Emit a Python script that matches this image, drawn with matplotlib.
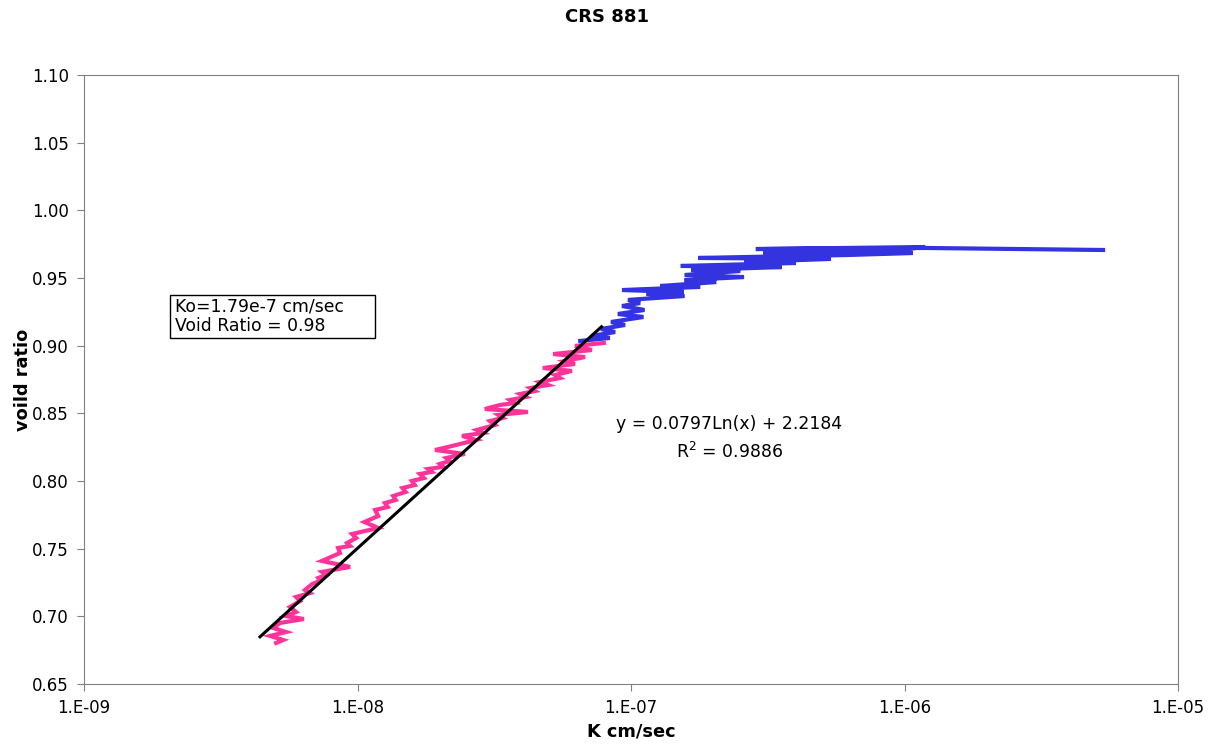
import numpy as np
import matplotlib.pyplot as plt
from matplotlib.patches import Rectangle
from matplotlib.ticker import FixedLocator, FuncFormatter, NullLocator

# blue: early part of the test (high void ratio)
k_blue = [5.32e-6, 1.19e-6, 2.86e-7, 1.19e-6, 8.71e-7, 3.04e-7, 1.07e-6, 6.21e-7,
          1.76e-7, 5.38e-7, 2.59e-7, 4.01e-7, 1.52e-7, 3.56e-7, 1.66e-7, 2.51e-7,
          1.57e-7, 2.59e-7, 1.57e-7, 2.05e-7, 1.28e-7, 1.79e-7, 9.27e-8, 1.56e-7,
          1.14e-7, 1.57e-7, 9.75e-8, 1.08e-7, 9.27e-8, 1.12e-7, 8.95e-8, 1.11e-7,
          8.45e-8, 9.51e-8, 7.76e-8, 8.75e-8, 7.19e-8, 8.37e-8, 6.52e-8]
e_blue = [0.9707, 0.9722, 0.9714, 0.9729, 0.9700, 0.9685, 0.9685, 0.9670,
          0.9648, 0.9641, 0.9618, 0.9611, 0.9589, 0.9581, 0.9559, 0.9552,
          0.9522, 0.9507, 0.9485, 0.9470, 0.9441, 0.9434, 0.9411, 0.9397,
          0.9382, 0.9367, 0.9338, 0.9315, 0.9293, 0.9264, 0.9234, 0.9212,
          0.9175, 0.9153, 0.9123, 0.9101, 0.9072, 0.9057, 0.9035]

# pink: part used for the fit
k_pink = [7.96e-8, 6.24e-8, 7.19e-8, 5.19e-8, 6.79e-8, 5.74e-8, 6.24e-8, 4.76e-8,
          6.08e-8, 5.27e-8, 5.50e-8, 4.65e-8, 4.98e-8, 4.28e-8, 4.46e-8, 3.93e-8,
          4.13e-8, 3.61e-8, 3.77e-8, 3.32e-8, 2.92e-8, 4.20e-8, 3.27e-8, 3.40e-8,
          3.05e-8, 3.18e-8, 2.73e-8, 2.88e-8, 2.41e-8, 2.71e-8, 2.22e-8, 1.92e-8,
          2.47e-8, 2.11e-8, 2.18e-8, 2.00e-8, 2.06e-8, 1.81e-8, 1.87e-8, 1.69e-8,
          1.75e-8, 1.58e-8, 1.62e-8, 1.46e-8, 1.50e-8, 1.35e-8, 1.38e-8, 1.26e-8,
          1.29e-8, 1.16e-8, 1.19e-8, 1.06e-8, 1.19e-8, 9.55e-9, 9.89e-9, 9.16e-9,
          9.40e-9, 8.49e-9, 8.63e-9, 7.41e-9, 9.40e-9, 7.41e-9, 7.67e-9, 7.18e-9,
          7.30e-9, 6.83e-9, 6.43e-9, 6.70e-9, 5.96e-9, 6.17e-9, 5.66e-9, 5.96e-9,
          5.48e-9, 6.37e-9, 5.21e-9, 4.91e-9, 5.48e-9, 4.79e-9, 5.35e-9, 5.04e-9]
e_pink = [0.9020, 0.8998, 0.8968, 0.8938, 0.8916, 0.8887, 0.8865, 0.8835,
          0.8813, 0.8783, 0.8761, 0.8732, 0.8709, 0.8687, 0.8665, 0.8643,
          0.8621, 0.8599, 0.8576, 0.8562, 0.8532, 0.8510, 0.8488, 0.8466,
          0.8443, 0.8414, 0.8377, 0.8355, 0.8333, 0.8303, 0.8259, 0.8229,
          0.8200, 0.8170, 0.8148, 0.8126, 0.8104, 0.8089, 0.8067, 0.8052,
          0.8022, 0.8000, 0.7970, 0.7948, 0.7919, 0.7889, 0.7860, 0.7837,
          0.7808, 0.7786, 0.7741, 0.7697, 0.7653, 0.7608, 0.7579, 0.7542,
          0.7520, 0.7505, 0.7468, 0.7409, 0.7365, 0.7328, 0.7305, 0.7283,
          0.7261, 0.7239, 0.7195, 0.7172, 0.7143, 0.7113, 0.7069, 0.7032,
          0.7002, 0.6980, 0.6951, 0.6914, 0.6884, 0.6855, 0.6825, 0.6803]

# log trend line y = a*ln(x) + b
fit_a = 0.0797
fit_b = 2.2184
fit_k = [4.4e-9, 7.8e-8]

x_ticks = [1e-9, 1e-8, 1e-7, 1e-6, 1e-5]
y_ticks = [0.65, 0.70, 0.75, 0.80, 0.85, 0.90, 0.95, 1.00, 1.05, 1.10]

plt.rcParams['font.family'] = ['DejaVu Sans']

fig = plt.figure(figsize=(12.21, 7.48), dpi=100)
ax = fig.add_axes([0.0688, 0.0856, 0.8960, 0.8141])

ax.plot(k_blue, e_blue, color='#3333E0', lw=3.0, solid_joinstyle='miter')
ax.plot(k_pink, e_pink, color='#FF3399', lw=3.0, solid_joinstyle='miter')
fk = np.array(fit_k)
ax.plot(fk, fit_a * np.log(fk) + fit_b, color='black', lw=2.2)

ax.set_xscale('log')
ax.set_xlim(1e-9, 1e-5)
ax.set_ylim(0.65, 1.10)
ax.xaxis.set_major_locator(FixedLocator(x_ticks))
ax.xaxis.set_minor_locator(NullLocator())
ax.xaxis.set_major_formatter(FuncFormatter(lambda v, p: '1.E%03d' % round(np.log10(v))))
ax.set_yticks(y_ticks)
ax.yaxis.set_major_formatter(FuncFormatter(lambda v, p: '%.2f' % v))

for s in ax.spines.values():
    s.set_color('#808080')
ax.tick_params(direction='out', length=5, color='#808080', labelsize=12, pad=6)

fig.text(0.497, 0.977, 'CRS 881', fontsize=13, fontweight='bold', ha='center', va='center')
ax.set_xlabel('K cm/sec', fontsize=12.8, fontweight='bold', labelpad=4)
ax.set_ylabel('voild ratio', fontsize=12.8, fontweight='bold', labelpad=0)

# text box (fixed-size like the spreadsheet one)
ax.add_patch(Rectangle((0.0786, 0.568), 0.1874, 0.071, transform=ax.transAxes,
                       fc='white', ec='black', lw=1, zorder=4))
ax.text(0.0835, 0.634, 'Ko=1.79e-7 cm/sec\nVoid Ratio = 0.98', transform=ax.transAxes,
        fontsize=12.4, va='top', ha='left', linespacing=1.1, zorder=5)

ax.text(0.590, 0.427, 'y = 0.0797Ln(x) + 2.2184', transform=ax.transAxes,
        fontsize=12.4, ha='center', va='center')
ax.text(0.590, 0.381, 'R$^2$ = 0.9886', transform=ax.transAxes,
        fontsize=12.4, ha='center', va='center')

fig.savefig('out.png', dpi=100)
